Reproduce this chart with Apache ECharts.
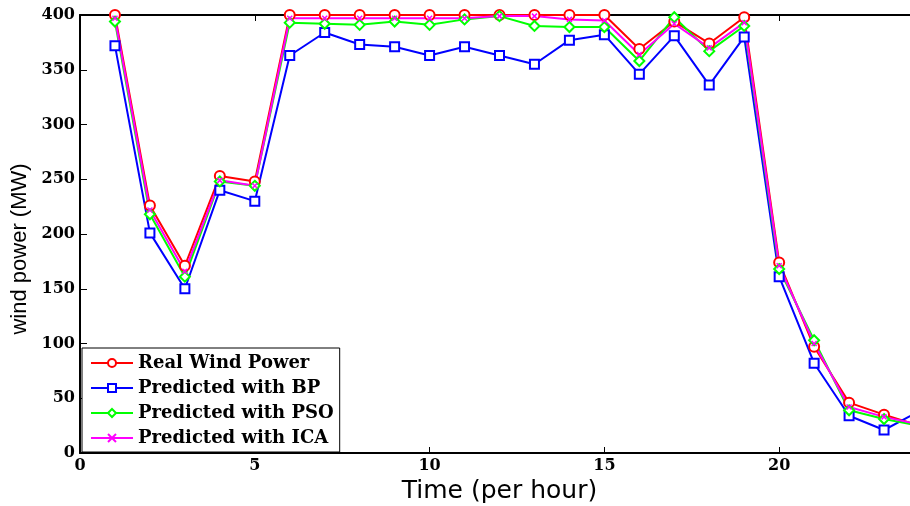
<!DOCTYPE html>
<html>
<head>
<meta charset="utf-8">
<script src="https://cdn.jsdelivr.net/npm/echarts@6/dist/echarts.min.js"></script>
<style>
  html, body { margin: 0; padding: 0; background: #fff; }
  #chart { width: 910px; height: 506px; }
</style>
</head>
<body>
<div id="chart"></div>
<script>
const hours = [1, 2, 3, 4, 5, 6, 7, 8, 9, 10, 11, 12, 13, 14, 15, 16, 17, 18, 19, 20, 21, 22, 23, 24];
const realPower = [400, 226, 171, 253, 248, 400, 400, 400, 400, 400, 400, 400, 400, 400, 400, 369, 394, 374, 398, 174, 97, 46, 35, 25];
const bpPower = [372, 201, 150, 240, 230, 363, 384, 373, 371, 363, 371, 363, 355, 377, 382, 346, 381, 336, 380, 161, 82, 34, 21, 38];
const psoPower = [394, 218, 161, 248, 244, 393, 392, 391, 394, 391, 396, 399, 390, 389, 389, 358, 398, 367, 390, 168, 103, 39, 31, 25];
const icaPower = [397, 222, 166, 249, 244, 397, 397, 397, 397, 397, 397, 399, 399, 396, 395, 364, 392, 370, 393, 171, 100, 42, 33, 26];
const yTicks = [0, 50, 100, 150, 200, 250, 300, 350, 400];

const seriesNames = ["Real Wind Power", "Predicted with BP", "Predicted with PSO", "Predicted with ICA"];

const myChart = echarts.init(document.getElementById("chart"));

function pairs(arr) {
  return hours.map((h, i) => [h, arr[i]]);
}

// bold serif, the original figure is a bit wide so DejaVu Serif fits better than Times
const labelFont = {
  color: "#000",
  fontFamily: "DejaVu Serif",
  fontWeight: "bold",
  fontSize: 16
};

const option = {
  animation: false,
  grid: { left: 80, top: 15, width: 839, height: 438, outerBoundsMode: "none" },
  legend: {
    orient: "vertical",
    left: 82,
    top: 348,
    itemWidth: 42,
    itemHeight: 10,
    itemGap: 7,
    padding: [6, 6, 5, 8],
    backgroundColor: "#fff",
    borderColor: "#000",
    borderWidth: 1,
    textStyle: {
      color: "#000",
      fontFamily: "DejaVu Serif",
      fontWeight: "bold",
      fontSize: 18
    },
    data: seriesNames
  },
  xAxis: [
    {
      type: "value",
      min: 0,
      max: 24,
      interval: 5,
      name: "Time (per hour)",
      nameLocation: "middle",
      nameGap: 22,
      nameTextStyle: { color: "#000", fontFamily: "DejaVu Sans", fontSize: 25 },
      axisLine: { lineStyle: { color: "#000", width: 2 } },
      axisTick: { inside: true, length: 6, lineStyle: { color: "#000" } },
      axisLabel: Object.assign({ margin: 5, showMaxLabel: false }, labelFont),
      splitLine: { show: false }
    },
    {
      type: "value",
      position: "top",
      min: 0,
      max: 24,
      interval: 5,
      axisLine: { lineStyle: { color: "#000", width: 2 } },
      axisTick: { inside: true, length: 6, lineStyle: { color: "#000" } },
      axisLabel: { show: false },
      splitLine: { show: false }
    }
  ],
  yAxis: {
    type: "value",
    min: yTicks[0],
    max: yTicks[yTicks.length - 1],
    interval: 50,
    name: "wind power (MW)",
    nameLocation: "middle",
    nameGap: 48,
    // padding on the right pushes the rotated title a bit lower, like in the figure
    nameTextStyle: { color: "#000", fontFamily: "Liberation Sans", fontSize: 22, padding: [0, 30, 0, 0] },
    axisLine: { show: true, lineStyle: { color: "#000", width: 2 } },
    axisTick: { show: true, inside: true, length: 7, lineStyle: { color: "#000" } },
    axisLabel: Object.assign({ margin: 5 }, labelFont),
    splitLine: { show: false }
  },
  series: [
    {
      name: seriesNames[0],
      type: "line",
      data: pairs(realPower),
      symbol: "emptyCircle",
      symbolSize: 10,
      lineStyle: { color: "#ff0000", width: 2 },
      itemStyle: { color: "#ff0000", borderWidth: 1.5 }
    },
    {
      name: seriesNames[1],
      type: "line",
      data: pairs(bpPower),
      symbol: "emptyRect",
      symbolSize: 9,
      lineStyle: { color: "#0000ff", width: 2 },
      itemStyle: { color: "#0000ff", borderWidth: 1.5 }
    },
    {
      name: seriesNames[2],
      type: "line",
      data: pairs(psoPower),
      symbol: "emptyDiamond",
      symbolSize: 10,
      lineStyle: { color: "#00ff00", width: 2 },
      itemStyle: { color: "#00ff00", borderWidth: 1.5 }
    },
    {
      name: seriesNames[3],
      type: "line",
      data: pairs(icaPower),
      symbol: "path://M0,0L10,10M10,0L0,10",
      symbolSize: 5,
      lineStyle: { color: "#ff00ff", width: 2 },
      itemStyle: { color: "#ff00ff", borderColor: "#ff00ff", borderWidth: 1.5 }
    }
  ]
};

myChart.setOption(option);
</script>
</body>
</html>
